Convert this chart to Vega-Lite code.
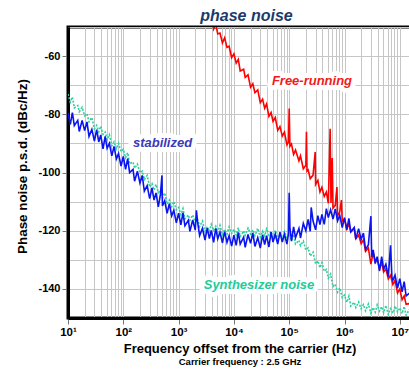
{
  "$schema": "https://vega.github.io/schema/vega-lite/v6.json",
  "width": 343,
  "height": 291,
  "autosize": "none",
  "padding": {"left": 68, "top": 27, "right": 0, "bottom": 53},
  "background": "white",
  "title": {"text": "phase noise", "fontSize": 16, "fontStyle": "italic", "fontWeight": "bold", "color": "#1c3a6c", "offset": 6, "dy": 3, "anchor": "middle", "dx": 7, "font": "Liberation Sans"},
  "config": {
    "font": "Liberation Sans",
    "view": {"stroke": "black", "strokeWidth": 3},
    "axis": {"domainColor": "black", "domainWidth": 3, "gridColor": "#c6c6c6", "gridWidth": 1, "gridOpacity": 1, "labelFont": "Liberation Sans", "labelFontWeight": "bold", "labelFontSize": 11, "labelColor": "black", "titleFont": "Liberation Sans", "titleFontWeight": "bold", "titleColor": "black", "tickColor": "#777777", "tickSize": 6}
  },
  "datasets": {
    "teal": [
      {"f":10,"v":-73},{"f":11,"v":-75.8},{"f":12,"v":-74.1},{"f":13,"v":-77.8},{"f":15,"v":-77},{"f":16,"v":-79.1},{"f":18,"v":-77.6},{"f":20,"v":-80.5},{"f":22,"v":-79.8},{"f":24,"v":-82.6},{"f":27,"v":-81.1},{"f":30,"v":-85},{"f":33,"v":-83.8},{"f":36,"v":-86},{"f":39,"v":-84.1},{"f":43,"v":-86.9},{"f":47,"v":-86.1},{"f":51,"v":-88.7},{"f":56,"v":-87},{"f":62,"v":-90.8},{"f":68,"v":-89.5},{"f":75,"v":-91.8},{"f":82,"v":-90},{"f":91,"v":-92.8},
      {"f":100,"v":-92},{"f":110,"v":-94.9},{"f":120,"v":-93.2},{"f":130,"v":-97},{"f":150,"v":-96.4},{"f":160,"v":-98.5},{"f":180,"v":-97.1},{"f":200,"v":-100.1},{"f":220,"v":-99.5},{"f":240,"v":-102.4},{"f":270,"v":-101},{"f":300,"v":-105},{"f":330,"v":-103.8},{"f":360,"v":-106},{"f":390,"v":-104.1},{"f":430,"v":-106.9},{"f":470,"v":-106.1},{"f":510,"v":-108.7},{"f":560,"v":-107},{"f":620,"v":-110.8},{"f":680,"v":-109.5},{"f":750,"v":-111.8},{"f":820,"v":-110},{"f":910,"v":-112.8},
      {"f":1000,"v":-112},{"f":1100,"v":-114.5},{"f":1200,"v":-112.4},{"f":1300,"v":-115.9},{"f":1500,"v":-114.6},{"f":1600,"v":-116.4},{"f":1800,"v":-114.6},{"f":2000,"v":-117.1},{"f":2200,"v":-116.1},{"f":2400,"v":-118.6},{"f":2700,"v":-116.7},{"f":3000,"v":-120.2},{"f":3300,"v":-118.6},{"f":3600,"v":-120.2},{"f":3900,"v":-117.8},{"f":4300,"v":-119.9},{"f":4700,"v":-118.5},{"f":5100,"v":-120.6},{"f":5600,"v":-118.2},{"f":6200,"v":-121.4},{"f":6800,"v":-119.5},{"f":7500,"v":-121.1},{"f":8200,"v":-118.7},{"f":9100,"v":-120.9},
      {"f":10000,"v":-119.5},{"f":11000,"v":-121.5},{"f":12000,"v":-119},{"f":13000,"v":-122},{"f":15000,"v":-120.1},{"f":16000,"v":-121.6},{"f":18000,"v":-119.1},{"f":20000,"v":-121.1},{"f":22000,"v":-119.7},{"f":24000,"v":-121.7},{"f":27000,"v":-119.2},{"f":30000,"v":-122.2},{"f":33000,"v":-120.2},{"f":36000,"v":-121.8},{"f":39000,"v":-119.4},{"f":43000,"v":-121.5},{"f":47000,"v":-120.2},{"f":51000,"v":-122.3},{"f":56000,"v":-119.9},{"f":62000,"v":-123},{"f":68000,"v":-121.1},{"f":75000,"v":-122.7},{"f":82000,"v":-120.3},{"f":91000,"v":-122.4},
      {"f":100000,"v":-121},{"f":110000,"v":-123.4},{"f":120000,"v":-121.3},{"f":130000,"v":-124.6},{"f":150000,"v":-123.3},{"f":160000,"v":-125.1},{"f":180000,"v":-123.6},{"f":200000,"v":-126.6},{"f":220000,"v":-125.9},{"f":240000,"v":-128.7},{"f":270000,"v":-127.4},{"f":300000,"v":-131.4},{"f":330000,"v":-130.4},{"f":360000,"v":-132.7},{"f":390000,"v":-131},{"f":430000,"v":-133.9},{"f":470000,"v":-133.3},{"f":510000,"v":-136.3},{"f":560000,"v":-134.9},{"f":620000,"v":-139.2},{"f":680000,"v":-138.4},{"f":750000,"v":-141.1},{"f":820000,"v":-139.7},{"f":910000,"v":-143},
      {"f":1000000,"v":-142.1},{"f":1100000,"v":-144.6},{"f":1200000,"v":-142.5},{"f":1300000,"v":-145.9},{"f":1500000,"v":-144.6},{"f":1600000,"v":-146.4},{"f":1800000,"v":-144.5},{"f":2000000,"v":-146.8},{"f":2200000,"v":-145.4},{"f":2400000,"v":-147.5},{"f":2700000,"v":-145.2},{"f":3000000,"v":-148.3},{"f":3300000,"v":-146.4},{"f":3600000,"v":-148},{"f":3900000,"v":-145.5},{"f":4300000,"v":-147.6},{"f":4700000,"v":-146.1},{"f":5100000,"v":-148.2},{"f":5600000,"v":-145.7},{"f":6200000,"v":-148.8},{"f":6800000,"v":-146.8},{"f":7500000,"v":-148.3},{"f":8200000,"v":-145.9},{"f":9100000,"v":-147.9},
      {"f":10000000,"v":-146.5},{"f":11000000,"v":-148.5},{"f":12000000,"v":-146},{"f":13000000,"v":-149},{"f":15000000,"v":-147},{"f":16000000,"v":-148.5}
    ],
    "red": [
      {"f":3900,"v":-46.9},{"f":4300,"v":-50.7},{"f":4700,"v":-48.9},{"f":5100,"v":-52.4},{"f":5600,"v":-52.1},{"f":6200,"v":-55.5},{"f":6800,"v":-53.7},{"f":7500,"v":-57},{"f":8200,"v":-56.6},{"f":9100,"v":-60.5},
      {"f":10000,"v":-59.2},{"f":11000,"v":-62.4},{"f":12000,"v":-61.1},{"f":13000,"v":-65.1},{"f":15000,"v":-64.5},{"f":16000,"v":-67.3},{"f":18000,"v":-66.4},{"f":20000,"v":-70.7},{"f":22000,"v":-69.5},{"f":24000,"v":-72.6},{"f":27000,"v":-71.6},{"f":30000,"v":-76},{"f":33000,"v":-74.8},{"f":36000,"v":-77.9},{"f":39000,"v":-76.4},{"f":43000,"v":-80.7},{"f":47000,"v":-79.4},{"f":51000,"v":-82.4},{"f":56000,"v":-81.1},{"f":62000,"v":-85.5},{"f":68000,"v":-84.2},{"f":75000,"v":-87.5},{"f":82000,"v":-86.1},{"f":91000,"v":-90.5},{"f":97000,"v":-89.5},
      {"f":100000,"v":-78},{"f":103000,"v":-91},{"f":110000,"v":-90.2},{"f":120000,"v":-93.8},{"f":130000,"v":-92.3},{"f":150000,"v":-96},{"f":160000,"v":-94.3},{"f":180000,"v":-98.7},{"f":200000,"v":-97.5},{"f":205000,"v":-86},{"f":210000,"v":-99.5},{"f":220000,"v":-99.1},{"f":240000,"v":-102.1},{"f":270000,"v":-100.9},{"f":295000,"v":-93},{"f":300000,"v":-104.1},{"f":330000,"v":-102.7},{"f":360000,"v":-106.7},{"f":390000,"v":-105.1},{"f":430000,"v":-108.2},{"f":470000,"v":-106.7},{"f":510000,"v":-110.6},{"f":550000,"v":-85},{"f":570000,"v":-110.5},{"f":600000,"v":-95},{"f":620000,"v":-112.2},{"f":680000,"v":-111.3},{"f":730000,"v":-105},{"f":750000,"v":-114.9},{"f":820000,"v":-113.6},{"f":880000,"v":-109.5},{"f":910000,"v":-116.8},
      {"f":1000000,"v":-116},{"f":1100000,"v":-119.4},{"f":1200000,"v":-117.7},{"f":1300000,"v":-120.4},{"f":1500000,"v":-119.2},{"f":1600000,"v":-122.8},{"f":1800000,"v":-121.5},{"f":2000000,"v":-124.5},{"f":2200000,"v":-123.1},{"f":2400000,"v":-127.1},{"f":2700000,"v":-125.9},{"f":3000000,"v":-131.5},{"f":3300000,"v":-127.5},{"f":3600000,"v":-130.9},{"f":3900000,"v":-129.7},{"f":4300000,"v":-133.1},{"f":4700000,"v":-130.9},{"f":5100000,"v":-134.2},{"f":5600000,"v":-133.1},{"f":6200000,"v":-136.6},{"f":6800000,"v":-135.3},{"f":7500000,"v":-138.5},{"f":8200000,"v":-137.1},{"f":9100000,"v":-141.4},
      {"f":10000000,"v":-140},{"f":11000000,"v":-143.7},{"f":12000000,"v":-142.4},{"f":13000000,"v":-145.3},{"f":15000000,"v":-145},{"f":16000000,"v":-148.3}
    ],
    "blue": [
      {"f":10,"v":-79.5},{"f":11,"v":-83.5},{"f":12,"v":-79.4},{"f":13,"v":-83.9},{"f":15,"v":-82.1},{"f":16,"v":-85.9},{"f":18,"v":-82.1},{"f":20,"v":-85.6},{"f":22,"v":-82.6},{"f":24,"v":-87.6},{"f":27,"v":-85.2},{"f":30,"v":-89.2},{"f":33,"v":-85.3},{"f":36,"v":-89.5},{"f":39,"v":-87.1},{"f":43,"v":-91.9},{"f":47,"v":-87.6},{"f":51,"v":-91.7},{"f":56,"v":-90},{"f":62,"v":-94.3},{"f":68,"v":-91},{"f":75,"v":-95.3},{"f":82,"v":-93.5},{"f":91,"v":-97.8},
      {"f":100,"v":-94.5},{"f":110,"v":-98.9},{"f":120,"v":-95.2},{"f":130,"v":-100},{"f":150,"v":-98.9},{"f":160,"v":-103},{"f":180,"v":-99.6},{"f":200,"v":-103.6},{"f":220,"v":-101},{"f":240,"v":-106.4},{"f":270,"v":-104.5},{"f":300,"v":-109},{"f":330,"v":-105.3},{"f":360,"v":-109.5},{"f":390,"v":-107},{"f":430,"v":-111.8},{"f":470,"v":-107.4},{"f":500,"v":-101},{"f":510,"v":-111.5},{"f":560,"v":-109.7},{"f":620,"v":-114},{"f":680,"v":-110.7},{"f":750,"v":-114.9},{"f":820,"v":-113},{"f":910,"v":-117.3},
      {"f":1000,"v":-114},{"f":1100,"v":-118},{"f":1200,"v":-113.9},{"f":1300,"v":-118.3},{"f":1500,"v":-116.4},{"f":1600,"v":-120.2},{"f":1800,"v":-116.3},{"f":2000,"v":-119.8},{"f":2100,"v":-113},{"f":2200,"v":-116.8},{"f":2400,"v":-121.7},{"f":2700,"v":-119.2},{"f":3000,"v":-123.2},{"f":3300,"v":-119.1},{"f":3600,"v":-122.7},{"f":3900,"v":-119.9},{"f":4300,"v":-124},{"f":4700,"v":-119.2},{"f":5100,"v":-122.8},{"f":5600,"v":-120.5},{"f":6200,"v":-124.2},{"f":6800,"v":-120.3},{"f":7500,"v":-124},{"f":8200,"v":-121.7},{"f":9100,"v":-125.3},
      {"f":10000,"v":-121.5},{"f":11000,"v":-125},{"f":12000,"v":-120.6},{"f":13000,"v":-124.6},{"f":15000,"v":-122.2},{"f":16000,"v":-125.7},{"f":18000,"v":-121.3},{"f":20000,"v":-124.3},{"f":22000,"v":-120.8},{"f":24000,"v":-125.4},{"f":27000,"v":-122.4},{"f":30000,"v":-126},{"f":33000,"v":-121.4},{"f":36000,"v":-124.8},{"f":39000,"v":-121.7},{"f":43000,"v":-125.6},{"f":47000,"v":-120.5},{"f":51000,"v":-123.9},{"f":56000,"v":-121.2},{"f":62000,"v":-124.6},{"f":68000,"v":-120.5},{"f":75000,"v":-123.9},{"f":82000,"v":-121.2},{"f":91000,"v":-124.6},{"f":97000,"v":-121},
      {"f":100000,"v":-107},{"f":103000,"v":-119},{"f":110000,"v":-123.6},{"f":120000,"v":-118.7},{"f":130000,"v":-122.4},{"f":150000,"v":-119.2},{"f":160000,"v":-122.5},{"f":180000,"v":-117.5},{"f":200000,"v":-120},{"f":220000,"v":-116.1},{"f":240000,"v":-120.2},{"f":250000,"v":-112},{"f":270000,"v":-116.7},{"f":300000,"v":-119.7},{"f":330000,"v":-114.8},{"f":360000,"v":-117.9},{"f":390000,"v":-114.4},{"f":430000,"v":-117.8},{"f":470000,"v":-112.4},{"f":510000,"v":-115.5},{"f":560000,"v":-112.8},{"f":620000,"v":-116},{"f":680000,"v":-112.5},{"f":750000,"v":-116.6},{"f":820000,"v":-114.7},{"f":910000,"v":-118.9},
      {"f":1000000,"v":-115.5},{"f":1100000,"v":-119.7},{"f":1200000,"v":-115.8},{"f":1300000,"v":-120.4},{"f":1500000,"v":-118.9},{"f":1600000,"v":-122.9},{"f":1800000,"v":-119.3},{"f":2000000,"v":-123},{"f":2200000,"v":-120.8},{"f":2400000,"v":-126.4},{"f":2700000,"v":-124.9},{"f":3000000,"v":-115},{"f":3100000,"v":-129},{"f":3300000,"v":-126.6},{"f":3600000,"v":-131.2},{"f":3900000,"v":-128.9},{"f":4300000,"v":-133.8},{"f":4700000,"v":-128.9},{"f":5100000,"v":-133.2},{"f":5600000,"v":-131.5},{"f":6200000,"v":-135.8},{"f":6800000,"v":-125},{"f":7200000,"v":-136},{"f":7500000,"v":-137},{"f":8200000,"v":-135.3},{"f":9100000,"v":-139.7},
      {"f":10000000,"v":-136.5},{"f":11000000,"v":-141},{"f":12000000,"v":-137.5},{"f":13000000,"v":-142.4},{"f":15000000,"v":-141.4},{"f":16000000,"v":-145.6}
    ],
    "notes": [
      {"f":258000,"v":-68.6,"t":"Free-running"},
      {"f":512,"v":-89.9,"t":"stabilized"},
      {"f":28400,"v":-138.7,"t":"Synthesizer noise"}
    ]
  },
  "layer": [
    {
      "data": {"name": "teal"},
      "mark": {"type": "line", "color": "#2bd19f", "strokeWidth": 1.6, "strokeDash": [2, 1.5], "clip": true},
      "encoding": {
        "x": {"field": "f", "type": "quantitative",
          "scale": {"type": "log", "domain": [10, 15940000], "nice": false},
          "axis": {"orient": "bottom",
            "values": [10,20,30,40,50,60,70,80,90,100,200,300,400,500,600,700,800,900,1000,2000,3000,4000,5000,6000,7000,8000,9000,10000,20000,30000,40000,50000,60000,70000,80000,90000,100000,200000,300000,400000,500000,600000,700000,800000,900000,1000000,2000000,3000000,4000000,5000000,6000000,7000000,8000000,9000000,10000000],
            "labelExpr": "datum.value==10?'10¹':datum.value==100?'10²':datum.value==1000?'10³':datum.value==10000?'10⁴':datum.value==100000?'10⁵':datum.value==1000000?'10⁶':datum.value==10000000?'10⁷':''",
            "labelFlush": false, "labelOverlap": false, "labelPadding": 2, "labelFontSize": 11.5,
            "tickOpacity": {"condition": {"test": "indexof([10,100,1000,10000,100000,1000000,10000000], datum.value) >= 0", "value": 1}, "value": 0},
            "grid": true,
            "title": "Frequency offset from the carrier (Hz)", "titleFontSize": 13, "titleY": 30, "titleBaseline": "middle"}},
        "y": {"field": "v", "type": "quantitative",
          "scale": {"domain": [-150, -50], "nice": false, "zero": false},
          "axis": {"orient": "left", "values": [-150,-140,-130,-120,-110,-100,-90,-80,-70,-60,-50],
            "labels": false, "ticks": false, "grid": true, "title": null}}
      }
    },
    {
      "data": {"name": "red"},
      "mark": {"type": "line", "color": "#ff0000", "strokeWidth": 1.6, "clip": true},
      "encoding": {
        "x": {"field": "f", "type": "quantitative",
          "axis": {"orient": "bottom", "domain": false, "ticks": false, "labels": false, "grid": false,
            "title": "Carrier frequency : 2.5 GHz", "titleFontSize": 9.5, "titleY": 43, "titleBaseline": "middle"}},
        "y": {"field": "v", "type": "quantitative",
          "axis": {"orient": "left", "values": [-140,-120,-100,-80,-60],
            "labelExpr": "'' + datum.value",
            "labelOverlap": false, "labelFlush": false, "labelPadding": 2,
            "ticks": true, "grid": false,
            "title": "Phase noise p.s.d. (dBc/Hz)", "titleFontSize": 13.4, "titleX": -46, "titleY": 139, "titleBaseline": "middle"}}
      }
    },
    {
      "data": {"name": "blue"},
      "mark": {"type": "line", "color": "#0a14f0", "strokeWidth": 1.6, "clip": true},
      "encoding": {
        "x": {"field": "f", "type": "quantitative", "axis": null},
        "y": {"field": "v", "type": "quantitative", "axis": null}
      }
    },
    {
      "data": {"name": "notes"},
      "mark": {"type": "text", "fontSize": 13, "fontWeight": "bold", "fontStyle": "italic", "stroke": "white", "strokeWidth": 10, "strokeJoin": "round", "fill": "white"},
      "encoding": {
        "x": {"field": "f", "type": "quantitative", "axis": null},
        "y": {"field": "v", "type": "quantitative", "axis": null},
        "text": {"field": "t"}
      }
    },
    {
      "data": {"name": "notes"},
      "mark": {"type": "text", "fontSize": 13, "fontWeight": "bold", "fontStyle": "italic"},
      "encoding": {
        "x": {"field": "f", "type": "quantitative", "axis": null},
        "y": {"field": "v", "type": "quantitative", "axis": null},
        "text": {"field": "t"},
        "color": {"field": "t", "type": "nominal", "legend": null,
          "scale": {"domain": ["Free-running", "stabilized", "Synthesizer noise"], "range": ["#ee1c1c", "#3a3ab8", "#22cc99"]}}
      }
    }
  ],
  "resolve": {"axis": {"x": "independent", "y": "independent"}}
}
